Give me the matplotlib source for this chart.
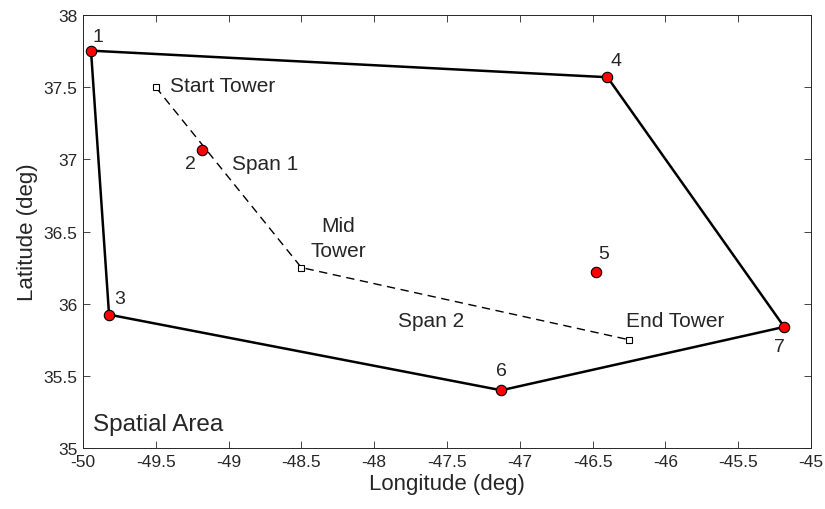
import matplotlib
matplotlib.use('Agg')
import matplotlib.pyplot as plt

plt.rcParams['font.family'] = ['Liberation Sans', 'DejaVu Sans']

# waypoints (longitude, latitude)
pt_lon = [-49.945, -49.184, -49.821, -46.398, -46.477, -47.127, -45.184]
pt_lat = [37.753, 37.068, 35.924, 37.569, 36.219, 35.400, 35.839]
pt_names = ['1', '2', '3', '4', '5', '6', '7']

# boundary of the spatial area (point indices)
boundary = [0, 3, 6, 5, 2, 0]

# towers and spans
tower_lon = [-49.5, -48.5, -46.25]
tower_lat = [37.5, 36.25, 35.75]

gray = '#262626'

fig = plt.figure(figsize=(8.25, 5.1), dpi=100)
ax = fig.add_axes([0.1006, 0.1196, 0.8824, 0.849])

ax.plot([pt_lon[i] for i in boundary], [pt_lat[i] for i in boundary],
        color='k', lw=1.8, zorder=2)
ax.plot(tower_lon, tower_lat, color='k', lw=1.0, ls=(0, (6, 4)), zorder=2)
ax.plot(tower_lon, tower_lat, ls='none', marker='s', ms=5, mfc='white',
        mec='k', mew=0.8, zorder=3)
ax.plot(pt_lon, pt_lat, ls='none', marker='o', ms=7.5, mfc='red',
        mec='k', mew=0.8, zorder=4)

# point number labels: offsets in data units
offs = [(0.048, 0.10), (-0.08, -0.10), (0.076, 0.11), (0.062, 0.115),
        (0.053, 0.127), (0.0, 0.136), (-0.036, -0.136)]
for x, y, s, (dx, dy) in zip(pt_lon, pt_lat, pt_names, offs):
    ax.text(x + dx, y + dy, s, fontsize=14, color=gray,
            ha='center', va='center')

fs = 15
ax.text(-49.40, 37.509, 'Start Tower', fontsize=fs, color=gray, va='center')
ax.text(-48.975, 36.969, 'Span 1', fontsize=fs, color=gray, va='center')
ax.text(-48.246, 36.542, 'Mid', fontsize=fs, color=gray,
        ha='center', va='center')
ax.text(-48.246, 36.369, 'Tower', fontsize=fs, color=gray,
        ha='center', va='center')
ax.text(-47.834, 35.882, 'Span 2', fontsize=fs, color=gray, va='center')
ax.text(-45.93, 35.882, 'End Tower', fontsize=fs, color=gray,
        ha='center', va='center')
ax.text(-49.93, 35.165, 'Spatial Area', fontsize=17.5, color=gray,
        va='center')

ax.set_xlim(-50, -45)
ax.set_ylim(35, 38)
ax.set_xticks([-50 + 0.5 * i for i in range(11)])
ax.set_xticklabels(['-50', '-49.5', '-49', '-48.5', '-48', '-47.5', '-47',
                    '-46.5', '-46', '-45.5', '-45'])
ax.set_yticks([35, 35.5, 36, 36.5, 37, 37.5, 38])
ax.set_yticklabels(['35', '35.5', '36', '36.5', '37', '37.5', '38'])
ax.tick_params(direction='in', length=5, width=0.6, colors=gray,
               labelsize=12.5, top=True, right=True, pad=4)
for sp in ax.spines.values():
    sp.set_color(gray)
    sp.set_linewidth(0.7)
ax.set_xlabel('Longitude (deg)', fontsize=16, color=gray, labelpad=3)
ax.set_ylabel('Latitude (deg)', fontsize=16, color=gray, labelpad=4)

fig.savefig('out.png', dpi=100)
